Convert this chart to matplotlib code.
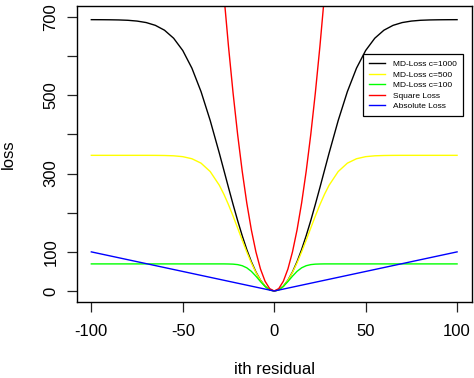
import matplotlib
matplotlib.use("Agg")
import matplotlib.pyplot as plt

plt.rcParams['font.family'] = ['Liberation Sans', 'DejaVu Sans']

# residuals
x = [-100, -95, -90, -85, -80, -75, -70, -65, -60, -55, -50, -45, -40, -35,
     -30, -27.5, -25, -22.5, -20, -17.5, -15, -12.5, -10, -7.5, -5, -2.5,
     0, 2.5, 5, 7.5, 10, 12.5, 15, 17.5, 20, 22.5, 25, 27.5, 30,
     35, 40, 45, 50, 55, 60, 65, 70, 75, 80, 85, 90, 95, 100]

md1000 = [693.1, 693.0, 692.8, 692.4, 691.5, 689.5, 685.7, 678.6, 666.2, 645.7,
          614.3, 569.2, 509.2, 435.6,
          352.0, 308.3, 264.4, 221.4, 180.1, 141.5, 106.2, 75.1, 48.8, 27.7, 12.4, 3.1,
          0, 3.1, 12.4, 27.7, 48.8, 75.1, 106.2, 141.5, 180.1, 221.4, 264.4, 308.3, 352.0,
          435.6, 509.2, 569.2, 614.3, 645.7, 666.2, 678.6, 685.7, 689.5, 691.5, 692.4,
          692.8, 693.0, 693.1]

md500 = [346.6, 346.6, 346.6, 346.6, 346.6, 346.6, 346.6, 346.5, 346.2, 345.4,
         343.2, 337.9, 326.6, 305.2,
         270.1, 247.0, 220.6, 191.6, 161.0, 130.0, 99.9, 72.0, 47.5, 27.3, 12.3, 3.1,
         0, 3.1, 12.3, 27.3, 47.5, 72.0, 99.9, 130.0, 161.0, 191.6, 220.6, 247.0, 270.1,
         305.2, 326.6, 337.9, 343.2, 345.4, 346.2, 346.5, 346.6, 346.6, 346.6, 346.6,
         346.6, 346.6, 346.6]

md100 = [69.3, 69.3, 69.3, 69.3, 69.3, 69.3, 69.3, 69.3, 69.3, 69.3,
         69.3, 69.3, 69.3, 69.3,
         69.3, 69.3, 69.1, 68.7, 67.5, 64.7, 59.3, 50.3, 38.0, 24.2, 11.7, 3.1,
         0, 3.1, 11.7, 24.2, 38.0, 50.3, 59.3, 64.7, 67.5, 68.7, 69.1, 69.3, 69.3,
         69.3, 69.3, 69.3, 69.3, 69.3, 69.3, 69.3, 69.3, 69.3, 69.3, 69.3,
         69.3, 69.3, 69.3]

square = [10000, 9025, 8100, 7225, 6400, 5625, 4900, 4225, 3600, 3025,
          2500, 2025, 1600, 1225,
          900, 756.25, 625, 506.25, 400, 306.25, 225, 156.25, 100, 56.25, 25, 6.25,
          0, 6.25, 25, 56.25, 100, 156.25, 225, 306.25, 400, 506.25, 625, 756.25, 900,
          1225, 1600, 2025, 2500, 3025, 3600, 4225, 4900, 5625, 6400, 7225,
          8100, 9025, 10000]

abs_x = [-100, 0, 100]
abs_y = [100, 0, 100]

xticks = [-100, -50, 0, 50, 100]
yticks = [0, 100, 200, 300, 400, 500, 600, 700]
ytick_labels = ['0', '100', '', '300', '', '500', '', '700']

fig = plt.figure(figsize=(4.74, 3.78), dpi=100)
W, H = 474, 378
ax = fig.add_axes([76.7 / W, 1 - 302 / H, (471.7 - 76.7) / W, (302 - 6) / H])

ax.plot(x, md1000, color='black', lw=1.0, label='MD-Loss c=1000')
ax.plot(x, md500, color='#FFFF00', lw=1.0, label='MD-Loss c=500')
ax.plot(x, md100, color='#00FF00', lw=1.0, label='MD-Loss c=100')
ax.plot(x, square, color='#FF0000', lw=1.0, label='Square Loss')
ax.plot(abs_x, abs_y, color='#0000FF', lw=1.0, label='Absolute Loss')

ax.set_xlim(-108, 108)
ax.set_ylim(-28, 728)
ax.set_xticks(xticks)
ax.set_xticklabels([str(v) for v in xticks], fontsize=12)
ax.set_yticks(yticks)
ax.set_yticklabels(ytick_labels, fontsize=12, rotation=90, va='center')
ax.tick_params(direction='out', length=7.2, width=0.9, color='#222222')
ax.tick_params(axis='x', pad=9)
ax.tick_params(axis='y', pad=6)
for s in ax.spines.values():
    s.set_linewidth(1.0)

fig.text(12.7 / W, 1 - 154 / H, 'loss', rotation=90, rotation_mode='anchor',
         ha='center', va='baseline', fontsize=12)
fig.text(274 / W, 4 / H, 'ith residual', ha='center', va='baseline', fontsize=12)

leg = ax.legend(loc='upper right', bbox_to_anchor=(0.978, 0.838), borderaxespad=0,
                fontsize=6, frameon=True, fancybox=False, framealpha=1,
                edgecolor='black', borderpad=0.75, labelspacing=0.32,
                handlelength=1.85, handletextpad=1.0)
leg.get_frame().set_linewidth(0.9)

fig.savefig('out.png', dpi=100)
